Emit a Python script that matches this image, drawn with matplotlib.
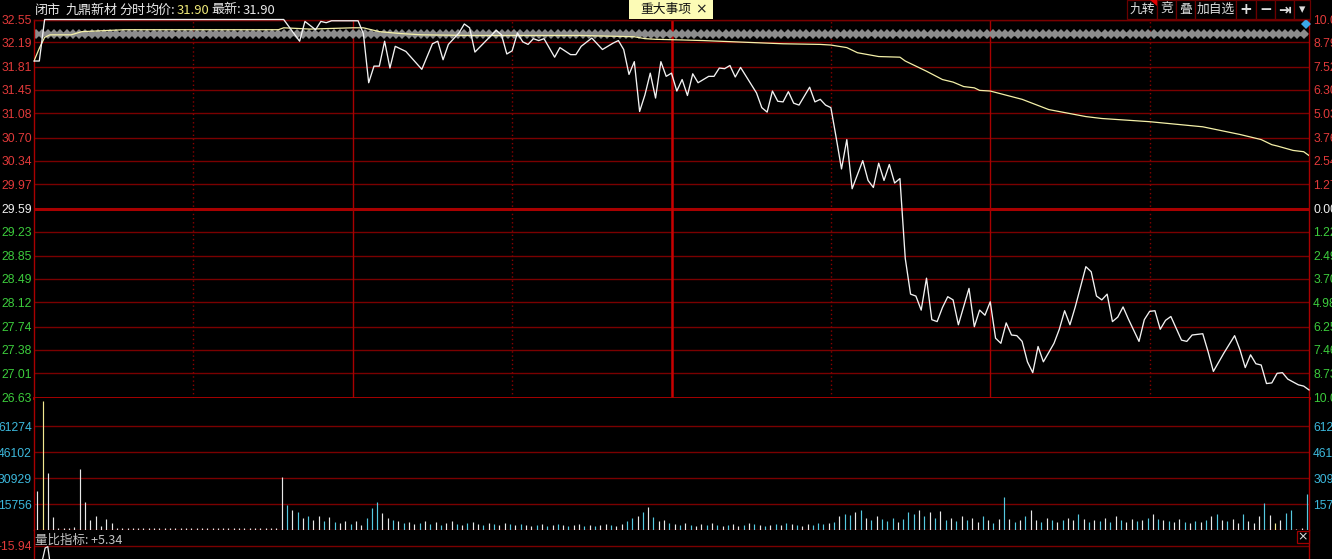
import numpy as np
import matplotlib
matplotlib.use('Agg')
import matplotlib.pyplot as plt
from matplotlib.patches import Rectangle, Polygon

plt.rcParams['font.family'] = ['Noto Sans CJK SC', 'DejaVu Sans']
NUM_FONT = ['Liberation Sans', 'DejaVu Sans']

W, H = 1332, 559

# ---- data ----
# price line (minute of session, price)
price_min = [0, 1, 2, 47, 50, 51, 53, 54, 55, 56,
             61, 62, 63, 64, 65, 66, 67, 68, 70, 73,
             75, 76, 77, 78, 80, 81, 82, 83, 85, 87,
             88, 89, 90, 91, 92, 93, 94, 95, 96, 98,
             99, 101, 102, 103, 105, 107, 109, 110, 111, 112,
             113, 114, 115, 116, 117, 118, 119, 120, 121, 122,
             123, 124, 125, 127, 128, 129, 130, 131, 132, 133,
             136, 137, 138, 139, 140, 141, 142, 143, 144, 146,
             147, 148, 149, 150, 151, 152, 153, 154, 156, 157,
             158, 159, 160, 161, 162, 163, 164, 165, 166, 167,
             168, 169, 170, 171, 172, 173, 174, 176, 177, 178,
             179, 180, 181, 182, 183, 184, 185, 186, 187, 188,
             189, 190, 192, 193, 194, 195, 196, 198, 199, 200,
             201, 202, 203, 204, 205, 206, 208, 209, 210, 211,
             212, 213, 214, 216, 217, 218, 220, 221, 222, 224,
             226, 227, 228, 229, 230, 231, 232, 233, 234, 235,
             236, 238, 239, 240]
price_val = [31.90, 31.90, 32.55, 32.55, 32.21, 32.52, 32.39, 32.52, 32.50, 32.53,
             32.53, 32.33, 31.56, 31.82, 31.82, 32.21, 31.79, 32.13, 32.05, 31.77,
             32.17, 32.21, 31.92, 32.16, 32.34, 32.48, 32.42, 32.04, 32.21, 32.38,
             32.31, 32.01, 32.06, 32.34, 32.20, 32.16, 32.25, 32.22, 32.25, 31.96,
             32.11, 32.00, 32.00, 32.13, 32.26, 32.08, 32.18, 32.22, 32.08, 31.69,
             31.89, 31.11, 31.37, 31.71, 31.32, 31.89, 31.66, 31.71, 31.43, 31.61,
             31.36, 31.70, 31.56, 31.66, 31.66, 31.79, 31.78, 31.83, 31.65, 31.80,
             31.40, 31.17, 31.10, 31.43, 31.27, 31.26, 31.42, 31.24, 31.21, 31.49,
             31.26, 31.30, 31.21, 31.17, 30.70, 30.21, 30.67, 29.90, 30.34, 30.03,
             29.92, 30.30, 30.03, 30.28, 29.99, 30.06, 28.81, 28.25, 28.22, 28.00,
             28.50, 27.85, 27.82, 28.04, 28.21, 28.16, 27.77, 28.34, 27.74, 28.00,
             27.92, 28.13, 27.56, 27.48, 27.80, 27.61, 27.60, 27.51, 27.19, 27.02,
             27.43, 27.19, 27.48, 27.70, 27.99, 27.77, 28.05, 28.68, 28.60, 28.22,
             28.16, 28.25, 27.82, 27.89, 28.05, 27.86, 27.51, 27.85, 27.98, 27.99,
             27.70, 27.84, 27.90, 27.53, 27.51, 27.61, 27.63, 27.35, 27.04, 27.33,
             27.60, 27.38, 27.10, 27.30, 27.16, 27.14, 26.85, 26.86, 27.01, 27.02,
             26.92, 26.83, 26.81, 26.75]

# average price line
avg_min = [0, 1, 2, 3, 7, 9, 17, 46, 47, 52, 60, 62, 65, 69, 73, 82, 103, 113, 115, 117,
           122, 126, 132, 138, 141, 148, 150, 153, 155, 159, 163, 164, 166, 168, 171, 173,
           175, 177, 178, 180, 186, 191, 198, 201, 210, 220, 227, 231, 233, 234, 237, 239, 240]
avg_val = [31.90, 32.10, 32.27, 32.31, 32.31, 32.36, 32.39, 32.39, 32.42, 32.40, 32.42, 32.42,
           32.36, 32.33, 32.31, 32.30, 32.30, 32.28, 32.25, 32.24,
           32.23, 32.22, 32.20, 32.18, 32.17, 32.16, 32.15, 32.11, 32.03, 31.97, 31.96, 31.90,
           31.82, 31.74, 31.61, 31.57, 31.50, 31.48, 31.44, 31.43, 31.30, 31.14, 31.03, 31.00,
           30.95, 30.87, 30.75, 30.67, 30.59, 30.57, 30.50, 30.48, 30.42]

band_level = 32.33          # grey diamond band
last_marker = (239.4, 32.48)

price_ticks = [32.55, 32.19, 31.81, 31.45, 31.08, 30.70, 30.34, 29.97, 29.59,
               29.23, 28.85, 28.49, 28.12, 27.74, 27.38, 27.01, 26.63]
pct_labels = ['10.00', '8.79', '7.52', '6.30', '5.03', '3.76', '2.54', '1.27', '0.00',
              '1.22', '2.49', '3.70', '4.98', '6.25', '7.46', '8.73', '10.00']
prev_close = 29.59

# volume per minute (240 bars)
volume = [23300, 76000, 33900, 8300, 1900, 1900, 1900, 2500, 36200, 17100,
          6400, 8800, 2900, 7200, 4500, 1600, 1500, 1700, 1600, 1500,
          1800, 1600, 1500, 1600, 1700, 1500, 1600, 1600, 1800, 1500,
          1600, 1700, 1500, 1600, 1600, 1500, 1700, 1600, 1500, 1600,
          1800, 1600, 1500, 1600, 1700, 1600, 31500, 15200, 12300, 11100,
          7600, 8800, 6400, 8800, 5800, 8200, 5300, 4700, 5800, 4100,
          5800, 3500, 7600, 13400, 16900, 10500, 7600, 6400, 5800, 4700,
          5300, 4100, 4700, 5800, 4100, 5300, 3500, 4700, 5800, 4100,
          3500, 4700, 5300, 4100, 3500, 4700, 4100, 3500, 4700, 4100,
          3500, 4100, 3500, 2900, 3500, 4100, 2900, 3500, 4100, 3500,
          2900, 3500, 4100, 2900, 3500, 2900, 3500, 4100, 3500, 2900,
          4100, 5800, 7600, 8800, 11100, 14000, 8200, 5800, 6400, 4700,
          4100, 3500, 4700, 3500, 2900, 4100, 3500, 4700, 3500, 2900,
          3500, 4100, 2900, 3500, 4700, 4100, 3500, 2900, 3500, 4100,
          3500, 4700, 4100, 3500, 2900, 4100, 3500, 4700, 4100, 4700,
          5300, 8800, 9900, 9300, 11100, 12300, 7600, 6400, 8800, 7000,
          5800, 7600, 5300, 7000, 11100, 9900, 12300, 8800, 11100, 7600,
          11700, 6400, 7600, 5800, 8800, 6400, 7600, 5300, 8800, 6400,
          4700, 7000, 19800, 7000, 5300, 6400, 8800, 12300, 6400, 5300,
          7600, 6400, 5300, 6400, 7600, 6400, 9900, 7000, 5300, 6400,
          5800, 7600, 5300, 8800, 6400, 5300, 7000, 5800, 6400, 7600,
          9900, 7000, 6400, 5800, 5300, 7000, 5300, 4700, 5800, 5300,
          6400, 8800, 9900, 6400, 5800, 7000, 4700, 9900, 5800, 4500,
          8800, 16200, 9300, 4900, 6400, 10700, 12300, 1200, 1700, 21600]
vol_codes = ("wywwwwwwwwwwwwwwwwww"
             "wwwwwwwwwwwwwwwwwwww"
             "wwwwwwwcwcwcwwcwcwwc"
             "wwcccwwcwcwwcwcwcwwc"
             "wcwwcwcwwcwcwwcwcwcw"
             "cwwcwcwwcwwccwcwcwwc"
             "wcwcwwcwcwcwwcwcwcwc"
             "wcwcwwcccwcwccwcwcwc"
             "ccwcccwcwcwcwcwcwwcw"
             "cwcwcwcwwcwcwcwwcwcw"
             "cwcwcwwcwcwcwcwwcwcw"
             "cwcwcwwcwwwcwywccwwc")
vol_ticks = [61274, 46102, 30929, 15756]
vol_floor, vol_top = 583, 77850

ratio_min = [1.5, 2.1, 2.6, 3.0]
ratio_val = [-32, -17.9, -16.6, -32]
ratio_tick = -15.94

# ---- colours ----
BG = '#000000'
GRID = '#7a0000'
RED_LINE = '#a80000'
RED_TXT = '#e23a3a'
GREEN_TXT = '#3ccc3c'
CYAN_TXT = '#3cb8dc'
code_color = {'w': '#e8e8e8', 'c': '#55c8e0', 'y': '#f2e890'}


fig = plt.figure(figsize=(W / 100, H / 100), dpi=100, facecolor=BG)

ax_p = fig.add_axes([34 / W, 1 - 397.6 / H, 1275 / W, (397.6 - 19.5) / H], facecolor=BG)
ax_v = fig.add_axes([34 / W, 1 - 530 / H, 1275 / W, (530 - 397.6) / H], facecolor=BG)
ax_r = fig.add_axes([34 / W, 0, 1275 / W, (559 - 530) / H], facecolor=BG)

for a in (ax_p, ax_v, ax_r):
    a.set_xlim(0, 240)
    for s in a.spines.values():
        s.set_color(RED_LINE)
        s.set_linewidth(1)
    a.tick_params(axis='x', bottom=False, labelbottom=False)
    a.tick_params(axis='y', length=0, pad=1.5, labelsize=8.7)

# ---- price panel ----
ax_p.set_ylim(price_ticks[-1], price_ticks[0])
for t in price_ticks:
    if t == prev_close:
        ax_p.axhline(t, color=RED_LINE, lw=2.2, zorder=1)
    else:
        ax_p.axhline(t, color=GRID, lw=1, zorder=1)
ax_p.spines['bottom'].set_linewidth(2)
ax_p.spines['bottom'].set_color('#b00000')
ax_p.spines['top'].set_color(GRID)
for m in (30, 90, 150, 210):
    ax_p.axvline(m, color='#8a0000', lw=1, ls=(0, (1, 2)), zorder=1)
for m in (60, 180):
    ax_p.axvline(m, color=RED_LINE, lw=1, zorder=1)
ax_p.axvline(120, color='#c80000', lw=1.8, zorder=1)

band_x = np.arange(0.3, 240, 1.17)
ax_p.plot([0.3, 239.7], [band_level, band_level], color='#8c8c8c', lw=2.4, zorder=2,
          solid_capstyle='butt')
ax_p.plot(band_x, np.full(len(band_x), band_level), ls='none', marker='D', ms=5.4,
          color='#8c8c8c', mew=0, zorder=2)

ax_p.plot(avg_min, avg_val, color='#f4f0a8', lw=0.9, zorder=3)
ax_p.plot(price_min, price_val, color='#f2f2f2', lw=0.95, zorder=4, clip_on=False)
ax_p.plot(*last_marker, marker='D', ms=5, color='#3aa6e8', mew=0, zorder=5, clip_on=False)

ax_p.set_yticks(price_ticks)
ax_p.set_yticklabels([f'{t:.2f}' for t in price_ticks], family=NUM_FONT)
for t, lab in zip(price_ticks, ax_p.get_yticklabels()):
    lab.set_color('#f0f0f0' if t == prev_close else (RED_TXT if t > prev_close else GREEN_TXT))

ax_p2 = ax_p.twinx()
ax_p2.set_ylim(ax_p.get_ylim())
ax_p2.set_yticks(price_ticks)
ax_p2.set_yticklabels(pct_labels, family=NUM_FONT)
ax_p2.tick_params(axis='y', length=0, pad=3, labelsize=8.7)
for s in ax_p2.spines.values():
    s.set_visible(False)
for t, lab in zip(price_ticks, ax_p2.get_yticklabels()):
    lab.set_color('#f0f0f0' if t == prev_close else (RED_TXT if t > prev_close else GREEN_TXT))

# ---- volume panel ----
ax_v.set_ylim(vol_floor, vol_top)
for t in vol_ticks:
    ax_v.axhline(t, color=GRID, lw=1, zorder=1)
ax_v.spines['top'].set_visible(False)
bar_x = np.arange(len(volume)) + 0.6
ax_v.vlines(bar_x, vol_floor, volume, colors=[code_color[c] for c in vol_codes], lw=0.85, zorder=3)
ax_v.set_yticks(vol_ticks)
ax_v.set_yticklabels([str(t) for t in vol_ticks], family=NUM_FONT, color=CYAN_TXT)
ax_v2 = ax_v.twinx()
ax_v2.set_ylim(ax_v.get_ylim())
ax_v2.set_yticks(vol_ticks)
ax_v2.set_yticklabels([str(t) for t in vol_ticks], family=NUM_FONT, color=CYAN_TXT)
ax_v2.tick_params(axis='y', length=0, pad=3, labelsize=8.7)
for s in ax_v2.spines.values():
    s.set_visible(False)

# ---- volume ratio strip ----
ax_r.set_ylim(ratio_tick - 13, ratio_tick + 16)
ax_r.axhline(ratio_tick, color=GRID, lw=1)
ax_r.spines['top'].set_visible(False)
ax_r.spines['bottom'].set_visible(False)
ax_r.plot(ratio_min, ratio_val, color='#f0f0f0', lw=0.9)
ax_r.set_yticks([ratio_tick])
ax_r.set_yticklabels([f'{ratio_tick:.2f}'], family=NUM_FONT, color=RED_TXT)

# ---- header / overlay ----
ov = fig.add_axes([0, 0, 1, 1], facecolor='none')
ov.set_xlim(0, W)
ov.set_ylim(H, 0)
ov.axis('off')

head = [('闭市', 35, '#e8e8e8'), ('九鼎新材', 66, '#e8e8e8'), ('分时', 119, '#e8e8e8'),
        ('均价:', 146, '#e8e8e8'), ('31.90', 177, '#eee878'), ('最新:', 211, '#e8e8e8'),
        ('31.90', 243, '#e8e8e8')]
for txt, x, c in head:
    ov.text(x, 10, txt, color=c, fontsize=9.4, va='center', ha='left',
            family=['Noto Sans CJK SC', 'Liberation Sans', 'DejaVu Sans'])

ov.add_patch(Rectangle((629, 0), 84, 19, facecolor='#fcfbb6', edgecolor='none'))
ov.text(640, 9.5, '重大事项', color='#101010', fontsize=9.2, va='center', ha='left')
ov.text(701, 9.5, '×', color='#202020', fontsize=10, va='center', ha='center', family='DejaVu Sans')

buttons = [('九转', 1127, 1157), ('竞', 1157, 1176), ('叠', 1176, 1195), ('加自选', 1195, 1236),
           ('+', 1236, 1256), ('−', 1256, 1275), ('⇥', 1275, 1294), ('▾', 1294, 1310)]
for lab, x0, x1 in buttons:
    ov.add_patch(Rectangle((x0, 0), x1 - x0, 18.5, facecolor=BG, edgecolor='#6a0000', lw=0.9))
    bold = lab in ('+', '−', '⇥')
    ov.text((x0 + x1) / 2, 9.5, lab, color='#dcdcdc', fontsize=11 if bold else 9.2,
            fontweight='bold' if bold else 'normal', va='center', ha='center',
            family=['Noto Sans CJK SC', 'DejaVu Sans'] if not bold else 'DejaVu Sans')
ov.add_patch(Polygon([(1150, 0), (1157, 0), (1157, 6)], closed=True, facecolor='#e00000', edgecolor='none'))

ov.text(35, 540, '量比指标: +5.34', color='#c4c4c4', fontsize=9, va='center', ha='left',
        family=['Noto Sans CJK SC', 'Liberation Sans', 'DejaVu Sans'])
ov.add_patch(Rectangle((1297, 531), 12, 12, facecolor=BG, edgecolor='#a00000', lw=0.9))
ov.text(1303, 537, '×', color='#e0e0e0', fontsize=9, va='center', ha='center', family='DejaVu Sans')

fig.savefig('out.png', dpi=100, facecolor=BG)
